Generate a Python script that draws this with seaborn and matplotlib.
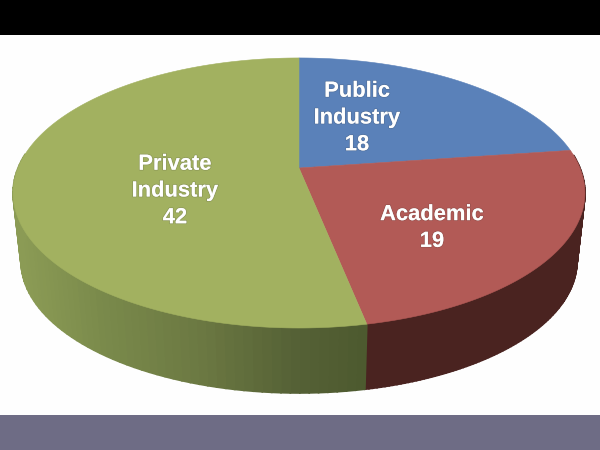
import numpy as np
import matplotlib
matplotlib.use("Agg")
import matplotlib.pyplot as plt
import matplotlib.patheffects as pe
from matplotlib.colors import to_rgb
import seaborn as sns

# Chart data
categories = ["Public\nIndustry", "Academic", "Private\nIndustry"]
values = [18, 19, 42]

# Colours
top_colors = sns.color_palette(["#5a81b9", "#b25a56", "#a2b160"])
side_stops_x = [20, 100, 200, 290, 365]
side_green = ["#8b9b55", "#7a8a4b", "#6b7842", "#566236", "#4d5a2f"]
side_red = "#4a2320"

# Label positions in pixels
label_x = [357, 432, 175]
label_y = [118, 228, 191]

sns.set_theme(style="white")
plt.rcParams['font.family'] = ['Liberation Sans', 'DejaVu Sans']

# Pie geometry, unit disc seen in perspective
cx, cy = 299, 168
a, b, k = 281, 130.4, 0.185


def top_rim(theta):
    u, v = np.cos(theta), np.sin(theta)
    d = 1 + k * v
    return cx + a * u / d, cy - b * v / d


def bottom_rim(theta):
    u, v = np.cos(theta), np.sin(theta)
    d = 1 + k * v
    return cx + 0.972 * a * u / d, cy + 69 - 0.975 * b * v / d


fig = plt.figure(figsize=(6, 4.5), dpi=100, facecolor="#fefefe")
ax = fig.add_axes([0, 0, 1, 1])
ax.set_xlim(0, 600)
ax.set_ylim(450, 0)
ax.axis("off")

# Black band on top, grey band at the bottom
ax.axhspan(0, 35, color="black", lw=0)
ax.axhspan(415, 450, color="#6e6c85", lw=0)

# Wedge angles, clockwise from 12 o'clock
fractions = np.array(values) / sum(values)
edges = np.pi / 2 - 2 * np.pi * np.concatenate([[0], np.cumsum(fractions)])

green_rgb = np.array([to_rgb(c) for c in side_green])

# Side wall first, the top face covers whatever is behind it
for i in range(len(values)):
    thetas = np.linspace(edges[i], edges[i + 1], 120)
    for t0, t1 in zip(thetas[:-1], thetas[1:]):
        if np.sin((t0 + t1) / 2) > 0.1:
            continue
        xt, yt = top_rim(np.array([t0, t1]))
        xb, yb = bottom_rim(np.array([t1, t0]))
        if i == 2:
            color = [np.interp(xt.mean(), side_stops_x, green_rgb[:, c]) for c in range(3)]
        else:
            color = side_red
        ax.fill(np.r_[xt, xb], np.r_[yt, yb], color=color, lw=1.2)

# Top face
for i in range(len(values)):
    thetas = np.linspace(edges[i], edges[i + 1], 200)
    x, y = top_rim(thetas)
    ax.fill(np.r_[cx, x], np.r_[cy, y], color=top_colors[i], lw=0.4)

# Labels
for i, name in enumerate(categories):
    ax.text(label_x[i], label_y[i], f"{name}\n{values[i]}", ha="center", va="center",
            color="white", fontsize=15.8, fontweight="bold", linespacing=1.36,
            path_effects=[pe.withStroke(linewidth=1.2, foreground=(0.2, 0.2, 0.2, 0.18))])

plt.savefig("out.png", dpi=100)
